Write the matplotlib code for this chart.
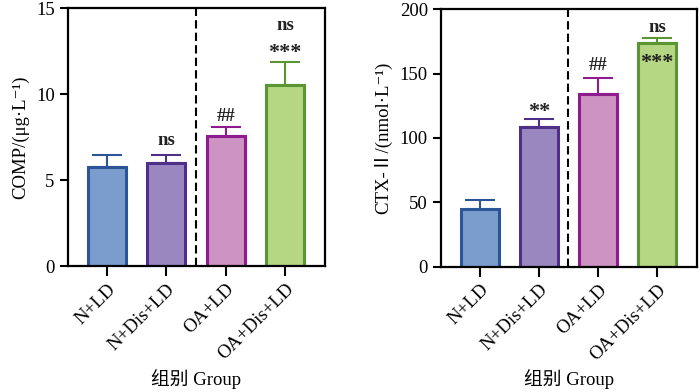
import matplotlib
matplotlib.use("Agg")
import matplotlib.pyplot as plt

plt.rcParams["font.family"] = ["Liberation Serif", "Noto Sans CJK SC", "DejaVu Sans"]

groups = ["N+LD", "N+Dis+LD", "OA+LD", "OA+Dis+LD"]
fill_colors = ["#7b9dcd", "#9b87c0", "#cc93c3", "#b5d683"]
edge_colors = ["#2b5597", "#4e3088", "#8e1c8e", "#5a9632"]

comp_mean = [5.77, 6.0, 7.56, 10.55]
comp_err = [0.72, 0.49, 0.54, 1.35]
comp_marks = [[], [("ns", 7.3)], [("##", 8.7)], [("***", 12.4), ("ns", 14.0)]]

ctx_mean = [44.6, 108.3, 134.2, 174.0]
ctx_err = [7.2, 6.2, 12.6, 3.5]
ctx_marks = [[], [("**", 120)], [("##", 156)], [("***", 158.5), ("ns", 186)]]

fig = plt.figure(figsize=(7, 3.92), dpi=100)
ax1 = fig.add_axes([0.097, 0.321, 0.367, 0.658])
ax2 = fig.add_axes([0.630, 0.320, 0.365, 0.656])


def draw(ax, means, errs, marks, ymax, yticks, ylabel):
    x = range(len(groups))
    for i in x:
        ax.bar(i, means[i], width=0.64, color=fill_colors[i],
               edgecolor=edge_colors[i], linewidth=2.2, zorder=2)
        ax.errorbar(i, means[i], yerr=[[0], [errs[i]]], fmt="none",
                    ecolor=edge_colors[i], elinewidth=1.5, capsize=11,
                    capthick=1.5, zorder=1)
        for txt, y in marks[i]:
            fs = 16 if "*" in txt else 13.5
            ax.text(i, y, txt, ha="center", va="center", fontsize=fs,
                    fontweight="bold", color="#222222")
    ax.axvline(1.5, color="black", linestyle=(0, (4, 2)), linewidth=1.5, zorder=0)
    ax.set_xlim(-0.66, 3.67)
    ax.set_ylim(0, ymax)
    ax.set_yticks(yticks)
    ax.set_xticks(list(x))
    ax.set_xticklabels(groups, rotation=45, ha="right", rotation_mode="anchor",
                       fontsize=13.5)
    ax.tick_params(axis="y", labelsize=13.5, width=1.5, length=6)
    ax.tick_params(axis="x", width=1.5, length=7)
    for s in ax.spines.values():
        s.set_linewidth(1.6)
    ax.set_ylabel(ylabel, fontsize=13.5, labelpad=5)
    ax.set_xlabel("组别 Group", fontsize=13.5, labelpad=4)


draw(ax1, comp_mean, comp_err, comp_marks, 15, [0, 5, 10, 15], "COMP/(μg·L⁻¹)")
draw(ax2, ctx_mean, ctx_err, ctx_marks, 200, [0, 50, 100, 150, 200], "CTX-Ⅱ/(nmol·L⁻¹)")

fig.savefig("out.png", dpi=100)
